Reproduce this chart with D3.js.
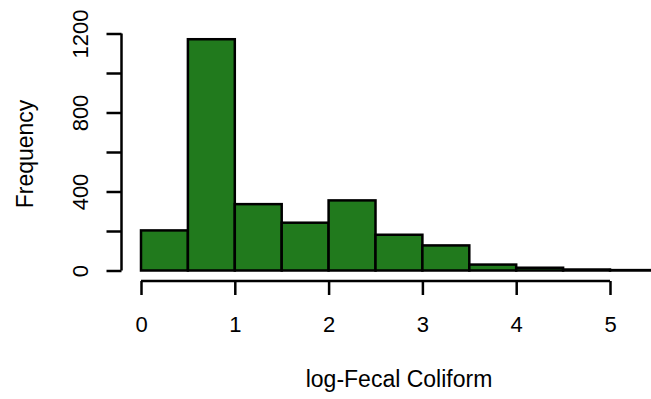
<!DOCTYPE html>
<html>
<head>
<meta charset="utf-8">
<script src="https://cdn.jsdelivr.net/npm/d3@7"></script>
<style>
  body { margin: 0; background: #ffffff; }
  svg text { font-family: "Liberation Sans", Arial, Helvetica, sans-serif; fill: #000; }
</style>
</head>
<body>
<script>
// histogram of log-Fecal Coliform, bins of width 0.5
var binStarts = [0, 0.5, 1, 1.5, 2, 2.5, 3, 3.5, 4, 4.5, 5]
var counts = [203, 1171, 336, 242, 355, 181, 127, 30, 14, 5, 2]
var binWidth = 0.5
var xTicks = [0, 1, 2, 3, 4, 5]
var yTicks = [0, 200, 400, 600, 800, 1000, 1200]
var yTickLabels = ['0', '', '400', '', '800', '', '1200']

var width = 651
var height = 399

var x = d3.scaleLinear().domain([0, 5]).range([141, 610])
var y = d3.scaleLinear().domain([0, 1200]).range([270.5, 33.5])

var svg = d3.select('body').append('svg')
  .attr('width', width)
  .attr('height', height)

// bars
svg.append('g')
  .selectAll('rect')
  .data(counts)
  .enter()
  .append('rect')
  .attr('x', function (d, i) { return x(binStarts[i]) })
  .attr('y', function (d) { return y(d) })
  .attr('width', function (d, i) { return x(binStarts[i] + binWidth) - x(binStarts[i]) })
  .attr('height', function (d) { return y(0) - y(d) })
  .attr('fill', '#217a1d')
  .attr('stroke', '#000')
  .attr('stroke-width', 2.5)

// x axis, R style: detached below the bars
var xAxis = d3.axisBottom(x)
  .tickValues(xTicks)
  .tickSize(14)
  .tickPadding(21)
  .tickFormat(d3.format('d'))

var gx = svg.append('g')
  .attr('transform', 'translate(0,281)')
  .call(xAxis)
gx.select('.domain').attr('d', 'M' + x(0) + ',0H' + x(5)).attr('stroke-width', 2.5)
gx.selectAll('.tick line').attr('stroke-width', 2.5)
gx.selectAll('.tick text').style('font-size', '22px')

// y axis
var yAxis = d3.axisLeft(y)
  .tickValues(yTicks)
  .tickSize(15)
  .tickFormat(function (d, i) { return yTickLabels[i] })

var gy = svg.append('g')
  .attr('transform', 'translate(121.5,0)')
  .call(yAxis)
gy.select('.domain').attr('d', 'M0,' + y(0) + 'V' + y(1200)).attr('stroke-width', 2.5)
gy.selectAll('.tick line').attr('stroke-width', 2.5)
gy.selectAll('.tick text')
  .style('font-size', '22px')
  .attr('x', null)
  .attr('dy', null)
  .attr('text-anchor', 'middle')
  .attr('transform', 'translate(-34,0) rotate(-90)')

// axis titles
svg.append('text')
  .attr('x', 399)
  .attr('y', 387)
  .attr('text-anchor', 'middle')
  .style('font-size', '23px')
  .text('log-Fecal Coliform')

svg.append('text')
  .attr('transform', 'translate(33,154) rotate(-90)')
  .attr('text-anchor', 'middle')
  .style('font-size', '23px')
  .text('Frequency')
</script>
</body>
</html>
